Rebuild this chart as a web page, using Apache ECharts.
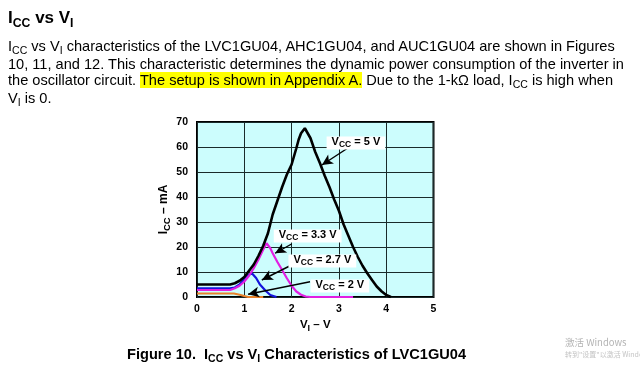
<!DOCTYPE html>
<html lang="en">

<head>
	<meta charset="UTF-8">
	<script src="https://cdn.jsdelivr.net/npm/echarts@6/dist/echarts.min.js"></script>
	<title>ICC vs VI</title>
	<style>
		body { margin: 0; background: #fff; font-family: 'Liberation Sans', Arial, sans-serif; color: #000; }
		#main { position: absolute; left: 0; top: 0; width: 640px; height: 378px; }
		.txt { position: absolute; white-space: nowrap; }
		.sb { font-size: 0.72em; position: relative; top: 0.3em; }
		#head { left: 8px; top: 8px; font-size: 17px; font-weight: bold; line-height: 20px; }
		#para { left: 8px; top: 38px; font-size: 14.6px; line-height: 16.5px; }
		#para mark { background: #ffff00; color: #000; }
		#cap { left: 127px; top: 346px; font-size: 14.6px; font-weight: bold; line-height: 16px; }
		#wm1 { left: 565px; top: 335px; font-size: 9.5px; color: #b4b4b4; font-family: 'Noto Sans CJK SC', sans-serif; }
		#wm2 { left: 565px; top: 349px; font-size: 7px; color: #c4c4c4; font-family: 'Noto Sans CJK SC', sans-serif; }
	</style>
</head>

<body>
	<div id="main"></div>
	<div class="txt" id="head">I<span class="sb">CC</span> vs V<span class="sb">I</span></div>
	<div class="txt" id="para">
		I<span class="sb">CC</span> vs V<span class="sb">I</span> characteristics of the LVC1GU04, AHC1GU04, and AUC1GU04 are shown in Figures<br>
		10, 11, and 12. This characteristic determines the dynamic power consumption of the inverter in<br>
		the oscillator circuit. <mark>The setup is shown in Appendix A.</mark> Due to the 1-kΩ load, I<span class="sb">CC</span> is high when<br>
		V<span class="sb">I</span> is 0.
	</div>
	<div class="txt" id="cap">Figure 10.&nbsp; I<span class="sb">CC</span> vs V<span class="sb">I</span> Characteristics of LVC1GU04</div>
	<div class="txt" id="wm1">激活 Windows</div>
	<div class="txt" id="wm2">转到"设置"以激活 Windows</div>

	<script>
		// curves: input voltage (V) and supply current (mA)
		var vi5 = [0, 0.7, 0.8, 0.9, 1.0, 1.1, 1.2, 1.3, 1.4, 1.5, 1.6, 1.7, 1.8, 1.9, 2.0, 2.1, 2.15, 2.2, 2.28, 2.4, 2.5, 2.6, 2.7, 2.8, 2.9, 3.0, 3.1, 3.2, 3.3, 3.4, 3.5, 3.6, 3.7, 3.8, 3.9, 4.0, 4.1];
		var icc5 = [5, 5, 5.5, 6.5, 8, 10.5, 13, 16.5, 20.5, 25.5, 33, 38.5, 44, 49, 53, 59.5, 63, 65.5, 67.5, 63.5, 58, 53.5, 48.5, 44, 39, 34.5, 29, 24.5, 20, 16, 12.5, 9.5, 6.8, 4.2, 2.3, 0.8, 0];

		var vi33 = [0, 0.7, 0.8, 0.9, 1.0, 1.1, 1.2, 1.3, 1.4, 1.47, 1.55, 1.6, 1.7, 1.8, 1.9, 2.0, 2.1, 2.2, 2.3, 2.4, 3.3];
		var icc33 = [2.8, 2.8, 3.5, 4.5, 6.2, 8.5, 11.5, 15, 19, 21.5, 19.5, 17.5, 14, 10.8, 7.5, 4.5, 2.2, 0.9, 0.2, 0, 0];

		var vi27 = [0, 0.7, 0.8, 0.9, 1.0, 1.08, 1.16, 1.25, 1.33, 1.45, 1.55, 1.68];
		var icc27 = [3.5, 3.5, 3.8, 5, 7.3, 8.8, 9.5, 7.6, 5, 2.5, 0.8, 0];

		var vi2 = [0, 0.78, 0.9, 1.0, 1.08, 1.4];
		var icc2 = [1.4, 1.4, 0.9, 0.4, 0, 0];

		// callouts: text, label centre, arrow tail, arrow tip (data units)
		var notes = [
			{ vcc: '5 V', at: [3.36, 61.6], from: [3.19, 59.6], to: [2.64, 52.8] },
			{ vcc: '3.3 V', at: [2.34, 24.4], from: [2.0, 21.2], to: [1.65, 17.5] },
			{ vcc: '2.7 V', at: [2.65, 14.4], from: [2.0, 12.8], to: [1.37, 6.8] },
			{ vcc: '2 V', at: [3.02, 4.4], from: [2.39, 6.1], to: [1.08, 1.1] }
		];

		var xTicks = [0, 1, 2, 3, 4, 5];
		var yTicks = [0, 10, 20, 30, 40, 50, 60, 70];

		function pairs(xs, ys) {
			return xs.map(function (x, i) { return [x, ys[i]]; });
		}

		var font = "'Liberation Sans', Arial, sans-serif";
		function subRich(size) {
			return {
				m: { fontSize: size, fontWeight: 'bold', fontFamily: font, color: '#000', lineHeight: size + 1, verticalAlign: 'top' },
				s: { fontSize: size - 2.5, fontWeight: 'bold', fontFamily: font, color: '#000', lineHeight: size - 2.5, verticalAlign: 'top', padding: [Math.round(size * 0.4), 0, 0, 0] }
			};
		}

		function curve(name, xs, ys, color, width) {
			return {
				name: name,
				type: 'line',
				data: pairs(xs, ys),
				showSymbol: false,
				lineStyle: { color: color, width: width },
				itemStyle: { color: color }
			};
		}

		var chart = echarts.init(document.getElementById('main'));

		chart.setOption({
			animation: false,
			grid: {
				left: 197, top: 122, width: 236.5, height: 175,
				containLabel: false, outerBoundsMode: 'none',
				show: true, backgroundColor: '#ccfdfd', borderColor: '#000', borderWidth: 2
			},
			xAxis: {
				type: 'value', min: xTicks[0], max: xTicks[xTicks.length - 1], interval: 1,
				name: '{m|V}{s|I}{m| – V}', nameLocation: 'middle', nameGap: 22,
				nameTextStyle: { rich: subRich(11.5) },
				axisLine: { show: false }, axisTick: { show: false },
				axisLabel: { margin: 7, fontSize: 10.5, fontWeight: 'bold', fontFamily: font, color: '#000' },
				splitLine: { show: true, lineStyle: { color: '#1a2a2a', width: 1 } }
			},
			yAxis: {
				type: 'value', min: yTicks[0], max: yTicks[yTicks.length - 1], interval: 10,
				name: '{m|I}{s|CC}{m| – mA}', nameLocation: 'middle', nameGap: 26,
				nameTextStyle: { rich: subRich(12) },
				axisLine: { show: false }, axisTick: { show: false },
				axisLabel: { margin: 9, fontSize: 10.5, fontWeight: 'bold', fontFamily: font, color: '#000' },
				splitLine: { show: true, lineStyle: { color: '#1a2a2a', width: 1 } }
			},
			series: [
				curve('VCC = 2 V', vi2, icc2, '#e8822a', 2),
				curve('VCC = 2.7 V', vi27, icc27, '#1414dc', 2.2),
				curve('VCC = 3.3 V', vi33, icc33, '#e21ee2', 2.2),
				curve('VCC = 5 V', vi5, icc5, '#000', 2.6),
				{
					name: 'notes',
					type: 'line',
					data: [],
					z: 5,
					markLine: {
						silent: true,
						symbol: ['none', 'arrow'],
						symbolSize: [8, 11],
						label: { show: false },
						lineStyle: { color: '#000', width: 1.4, type: 'solid' },
						data: notes.map(function (n) {
							return [{ coord: n.from }, { coord: n.to }];
						})
					},
					markPoint: {
						silent: true,
						symbol: 'rect',
						symbolSize: 1,
						itemStyle: { color: 'rgba(0,0,0,0)' },
						label: {
							show: true, position: 'inside',
							backgroundColor: '#fff', padding: [0, 5, 1, 5],
							rich: subRich(11),
							formatter: function (p) { return '{m|V}{s|CC}{m| = ' + p.name + '}'; }
						},
						data: notes.map(function (n) {
							return { name: n.vcc, coord: n.at };
						})
					}
				}
			]
		});
	</script>
</body>

</html>
